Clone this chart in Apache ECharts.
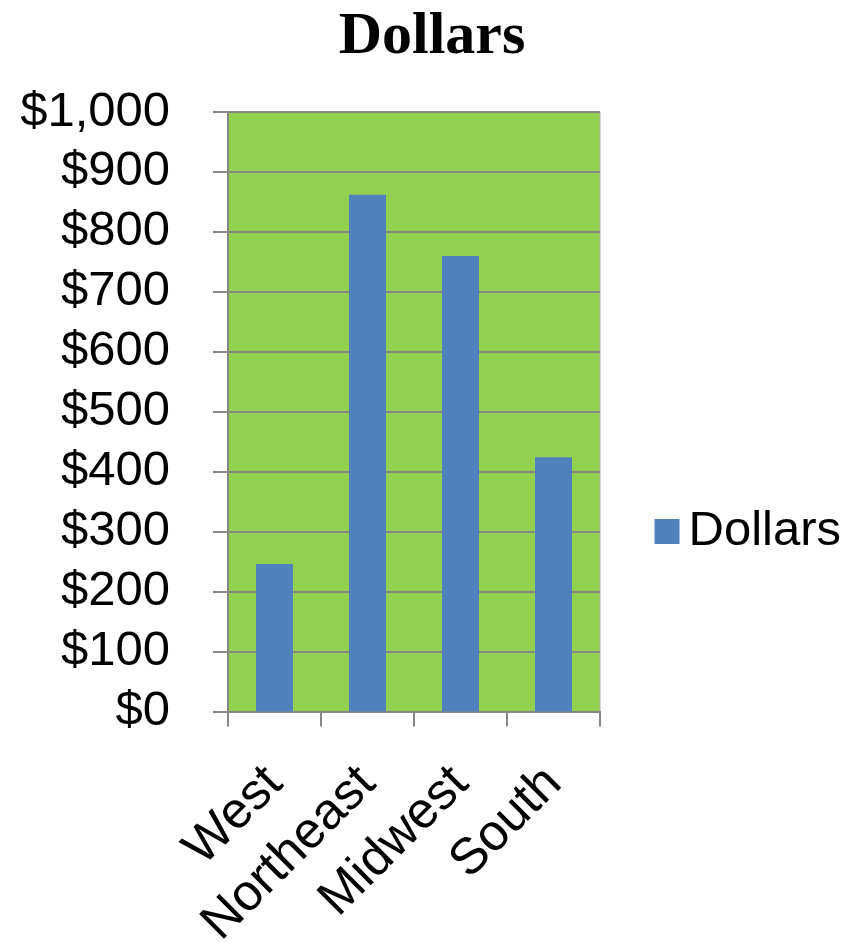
<!DOCTYPE html>
<html>
<head>
<meta charset="utf-8">
<script src="https://cdn.jsdelivr.net/npm/echarts@6/dist/echarts.min.js"></script>
<style>
html,body{margin:0;padding:0;background:#fff;}
#chart{width:856px;height:952px;}
</style>
</head>
<body>
<div id="chart"></div>
<script>
var categories = ['West', 'Northeast', 'Midwest', 'South'];
var dollars = [246, 862, 760, 424];
var seriesName = 'Dollars';
var chartTitle = 'Dollars';

var chart = echarts.init(document.getElementById('chart'), null, {renderer: 'canvas'});
chart.setOption({
  animation: false,
  backgroundColor: '#ffffff',
  title: {
    text: chartTitle,
    left: 427, top: 2, textAlign: 'center',
    textStyle: {fontFamily: 'Liberation Serif', fontWeight: 'bold', fontSize: 60, color: '#000'}
  },
  legend: {
    data: [seriesName],
    right: 10, top: 502,
    itemWidth: 25, itemHeight: 25, itemGap: 10,
    icon: 'rect',
    textStyle: {fontFamily: 'Liberation Sans', fontSize: 49, color: '#000', padding: [0,0,0,4]}
  },
  grid: {
    left: 228, right: 256, top: 112, bottom: 240,
    show: true, backgroundColor: '#92D050', borderColor: '#b0b0b0', borderWidth: 1
  },
  xAxis: {
    type: 'category',
    data: categories,
    axisLine: {lineStyle: {color: '#868686', width: 2}},
    axisTick: {show: true, length: 15, alignWithLabel: false, lineStyle: {color: '#868686', width: 2}},
    axisLabel: {rotate: 45, margin: 64, interval: 0, fontFamily: 'Liberation Sans', fontSize: 51, color: '#000'}
  },
  yAxis: {
    type: 'value',
    min: 0, max: 1000, interval: 100,
    axisLine: {show: true, lineStyle: {color: '#868686', width: 2}},
    axisTick: {show: true, length: 15, lineStyle: {color: '#868686', width: 2}},
    splitLine: {lineStyle: {color: '#868686', width: 2}},
    axisLabel: {
      margin: 58, fontFamily: 'Liberation Sans', fontSize: 49, color: '#000',
      formatter: function (v) { return '$' + v.toLocaleString('en-US'); }
    }
  },
  series: [{
    name: seriesName,
    type: 'bar',
    data: dollars,
    barWidth: 37,
    itemStyle: {color: '#4F81BD'}
  }]
});
</script>
</body>
</html>
